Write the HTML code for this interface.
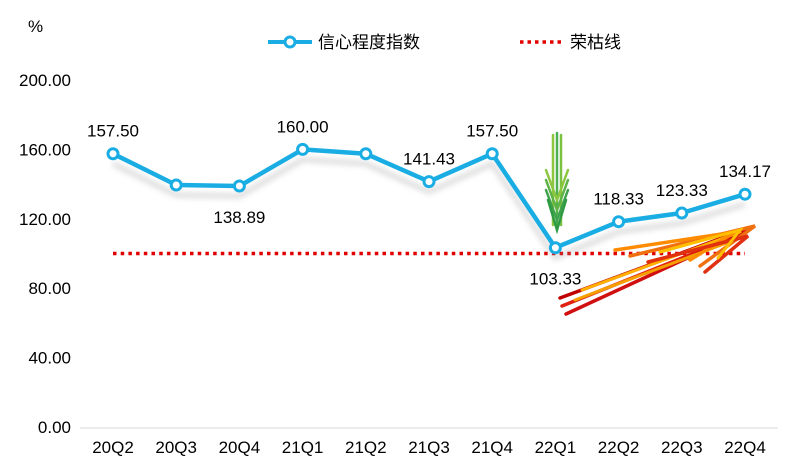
<!DOCTYPE html>
<html><head><meta charset="utf-8"><style>
html,body{margin:0;padding:0;background:#fff;}
svg{display:block;font-family:"Liberation Sans","Noto Sans CJK SC",sans-serif;}
</style></head><body>
<svg id="chart" width="790" height="474" viewBox="0 0 790 474" xmlns="http://www.w3.org/2000/svg">
<defs>
<filter id="sh" x="-10%" y="-50%" width="120%" height="200%"><feGaussianBlur stdDeviation="3"/></filter>
</defs>
<text x="28" y="32" font-size="17" fill="#000">%</text>
<g>
<g>
<line x1="268" y1="42" x2="312" y2="42" stroke="#1AADE3" stroke-width="4"/>
<circle cx="290" cy="42" r="5" fill="#fff" stroke="#1AADE3" stroke-width="3"/>
<text x="318" y="48" font-size="17">信心程度指数</text></g>
<g>
<line x1="520" y1="42" x2="562" y2="42" stroke="#E00000" stroke-width="3.5" stroke-dasharray="3.5 4"/>
<text x="570" y="48" font-size="17">荣枯线</text></g>
</g>
<g id="yaxis"></g>
<g id="xaxis"></g>
<g id="plot"></g>
<g>
<g stroke-linecap="round" fill="none">
<line x1="553" y1="135" x2="553" y2="225" stroke="#8CC63F" stroke-width="2.5"/>
<line x1="557" y1="133" x2="557" y2="228" stroke="#4CAF50" stroke-width="2.5"/>
<line x1="561" y1="135" x2="561" y2="225" stroke="#7CC242" stroke-width="2.5"/>
<polyline points="546,170 557,200 568,170" stroke="#8CC63F" stroke-width="2.5"/>
<polyline points="546,180 557,210 568,180" stroke="#5DB345" stroke-width="2.5"/>
<polyline points="546,190 557,220 568,190" stroke="#3FA34D" stroke-width="2.5"/>
<polyline points="548,200 557,230 566,200" stroke="#2E9B42" stroke-width="2.5"/>
</g>
<g stroke-linecap="round" fill="none">
<line x1="560" y1="298" x2="738" y2="232" stroke="#C00000" stroke-width="3.5"/>
<line x1="562" y1="306" x2="742" y2="234" stroke="#E02010" stroke-width="3.5"/>
<line x1="566" y1="314" x2="748" y2="230" stroke="#D01010" stroke-width="3.5"/>
<line x1="575" y1="300" x2="745" y2="236" stroke="#F5A000" stroke-width="3"/>
<line x1="582" y1="290" x2="740" y2="232" stroke="#FFB000" stroke-width="3"/>
<polyline points="630,256 755,226 700,266" stroke="#F07010" stroke-width="3.5"/>
<polyline points="615,250 735,232 690,260" stroke="#FF8C00" stroke-width="3.5"/>
<polyline points="648,262 748,236 705,272" stroke="#E03010" stroke-width="3.5"/>
<polyline points="660,252 740,230 718,258" stroke="#FFC000" stroke-width="3"/>
</g>
</g>
</svg>
<script>
const categories=["20Q2","20Q3","20Q4","21Q1","21Q2","21Q3","21Q4","22Q1","22Q2","22Q3","22Q4"];
const values=[157.5,139.5,138.89,160.0,157.5,141.43,157.5,103.33,118.33,123.33,134.17];
const labels=["157.50","","138.89","160.00","","141.43","157.50","103.33","118.33","123.33","134.17"];
const labelBelow=[false,false,true,false,false,false,false,true,false,false,false];
const yTicks=[0,40,80,120,160,200];
const yTickLabels=["0.00","40.00","80.00","120.00","160.00","200.00"];
const boomBust=[100];
const NS="http://www.w3.org/2000/svg";
const y0=427,y200=80,xFirst=113,xStep=63.2;
const yS=v=>y0-(v/200)*(y0-y200);
const xS=i=>xFirst+i*xStep;
function mk(tag,attrs,parent,txt){const e=document.createElementNS(NS,tag);for(const k in attrs)e.setAttribute(k,attrs[k]);if(txt!==undefined)e.textContent=txt;parent.appendChild(e);return e;}
const ya=document.getElementById('yaxis'),xa=document.getElementById('xaxis'),pl=document.getElementById('plot');
yTicks.forEach((t,i)=>{const e=mk('text',{x:71,y:yS(t)+6,'font-size':17,'text-anchor':'end'},ya,yTickLabels[i]);

});
const ax=mk('line',{x1:80,y1:y0+1,x2:778,y2:y0+1,stroke:'#D9D9D9','stroke-width':1},xa);


categories.forEach((c,i)=>{const e=mk('text',{x:xS(i),y:453,'font-size':17,'text-anchor':'middle'},xa,c);

});
const bx1=xS(0),bx2=xS(categories.length-1);
const bs=mk('line',{x1:bx1,y1:yS(boomBust[0])+12,x2:bx2,y2:yS(boomBust[0])+12,stroke:'#ccc','stroke-width':4,opacity:0.5,filter:'url(#sh)'},pl);


const bb=mk('line',{x1:bx1,y1:yS(boomBust[0]),x2:bx2,y2:yS(boomBust[0]),stroke:'#E00000','stroke-width':3.5,'stroke-dasharray':'3.5 4.2'},pl);


const pts=values.map((v,i)=>xS(i)+','+yS(v)).join(' ');
const shd=mk('polyline',{points:values.map((v,i)=>xS(i)+','+(yS(v)+10)).join(' '),fill:'none',stroke:'#999','stroke-width':5,opacity:0.35,filter:'url(#sh)'},pl);


const ln=mk('polyline',{points:pts,fill:'none',stroke:'#1AADE3','stroke-width':4.5,'stroke-linejoin':'round'},pl);


values.forEach((v,i)=>{const c=mk('circle',{cx:xS(i),cy:yS(v),r:5,fill:'#fff',stroke:'#1AADE3','stroke-width':3},pl);


if(labels[i]){const t=mk('text',{x:xS(i),y:labelBelow[i]?yS(v)+37:yS(v)-17,'font-size':17,'text-anchor':'middle'},pl,labels[i]);

}});
</script>
</body></html>
